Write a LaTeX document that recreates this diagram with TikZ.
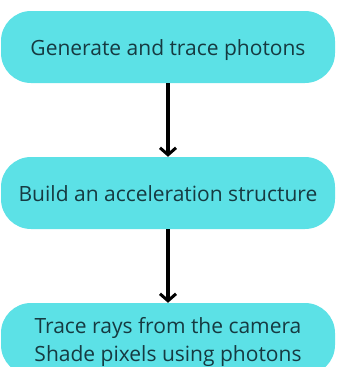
\documentclass[tikz,border=0pt]{standalone}
\usepackage{fontspec}
\setmainfont{Open Sans}
\usetikzlibrary{arrows.meta}
\definecolor{boxfill}{HTML}{5CE1E6}
\definecolor{txt}{HTML}{163A41}
\tikzset{
  flowbox/.style={fill=boxfill, rounded corners=30pt, minimum width=334pt, minimum height=72pt, inner sep=0pt, text=txt, font=\fontsize{21}{28}\selectfont, align=center, text height=16pt, text depth=0pt},
  flowarrow/.style={line width=3.6pt, -{Straight Barb[length=7pt,width=16pt,line width=3pt]}}
}
\begin{document}
\begin{tikzpicture}[x=1pt,y=1pt]
\useasboundingbox (0,0) rectangle (337,-367);
\clip (0,0) rectangle (337,-367);
\node[flowbox] (a) at (168,-47) {Generate and trace photons};
\node[flowbox] (b) at (168,-193) {Build an acceleration structure};
\node[flowbox] (c) at (168,-339) {};
\node[text=txt, font=\fontsize{21}{28}\selectfont, align=center, anchor=north, inner sep=0pt] (ct) at (168,-317) {Trace rays from the camera\\Shade pixels using photons};
\draw[flowarrow] (a.south) -- (b.north);
\draw[flowarrow] (b.south) -- (c.north);
\end{tikzpicture}
\end{document}
